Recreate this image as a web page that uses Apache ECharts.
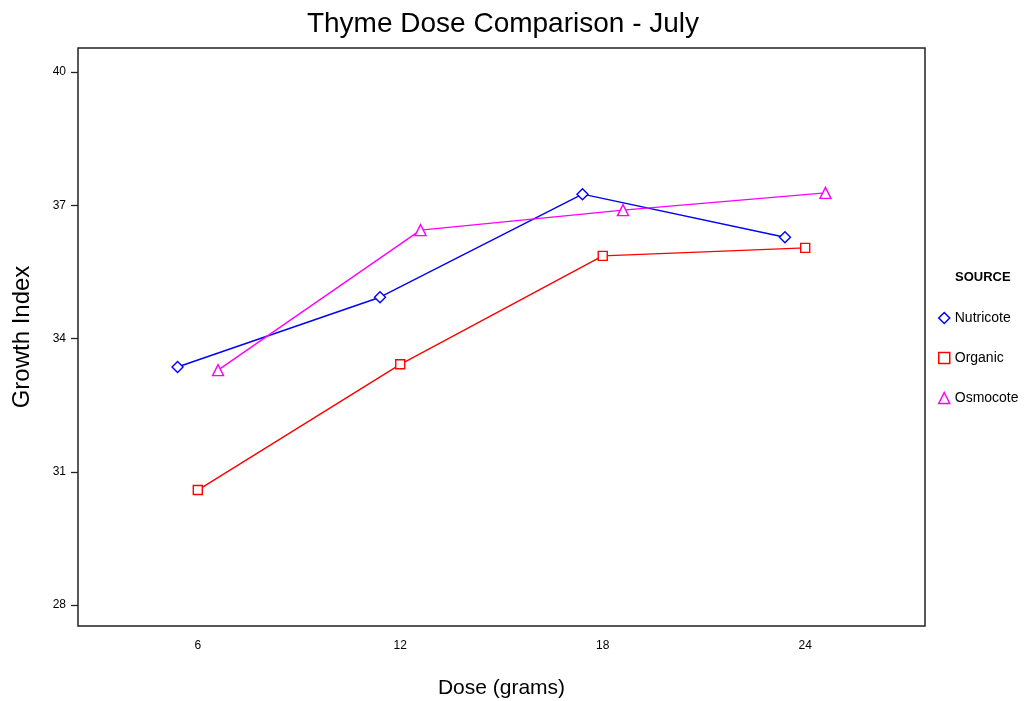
<!DOCTYPE html>
<html>
<head>
<meta charset="utf-8">
<script src="https://cdn.jsdelivr.net/npm/echarts@6/dist/echarts.min.js"></script>
<style>
  html, body { margin: 0; padding: 0; background: #fff; }
  #chart { width: 1029px; height: 701px; }
</style>
</head>
<body>
<div id="chart"></div>
<script>
// ---- data ----
const seriesNames = ['Nutricote', 'Organic', 'Osmocote'];
const nutricoteDose = [5.4, 11.4, 17.4, 23.4];
const nutricoteGrowth = [33.36, 34.93, 37.25, 36.28];
const organicDose = [6, 12, 18, 24];
const organicGrowth = [30.59, 33.42, 35.86, 36.04];
const osmocoteDose = [6.6, 12.6, 18.6, 24.6];
const osmocoteGrowth = [33.29, 36.44, 36.89, 37.28];
const xTicks = [6, 12, 18, 24];
const yTicks = [28, 31, 34, 37, 40];

const C = {
  nutricote: '#0000ff',
  organic: '#ff0000',
  osmocote: '#ff00ff',
  ink: '#000',
  frame: '#222',
};
const FONT = 'Liberation Sans, Arial, sans-serif';

const pairs = (xs, ys) => xs.map((x, i) => [x, ys[i]]);

function lineSeries(name, data, color, symbol) {
  return {
    name, type: 'line', data,
    symbol, symbolSize: symbol === 'rect' ? 9 : 11,
    showAllSymbol: true,
    lineStyle: { color, width: 1.4 },
    itemStyle: { color: '#fff', borderColor: color, borderWidth: 1.4 },
    emphasis: { disabled: true },
    z: 3,
  };
}

const chart = echarts.init(document.getElementById('chart'), null, { renderer: 'canvas' });
chart.setOption({
  backgroundColor: '#fff',
  animation: false,
  title: {
    text: 'Thyme Dose Comparison - July',
    left: 498, top: 5, textAlign: 'center',
    textStyle: { fontFamily: FONT, fontSize: 28, fontWeight: 'normal', color: C.ink },
  },
  grid: {
    left: 78, right: 104, top: 48, bottom: 75,
    outerBoundsMode: 'none', containLabel: false,
    show: true, borderColor: C.frame, borderWidth: 1.5, backgroundColor: 'transparent',
  },
  xAxis: {
    type: 'value', min: 2.45, max: 27.55,
    name: 'Dose (grams)', nameLocation: 'middle', nameGap: 52,
    nameTextStyle: { fontFamily: FONT, fontSize: 21, color: C.ink },
    axisLine: { show: false },
    axisTick: { show: false },
    splitLine: { show: false },
    axisLabel: { customValues: xTicks, margin: 14, fontFamily: FONT, fontSize: 12, color: C.ink },
  },
  yAxis: {
    type: 'value', min: 27.53, max: 40.54,
    name: 'Growth Index', nameLocation: 'middle', nameGap: 44,
    nameTextStyle: { fontFamily: FONT, fontSize: 24, color: C.ink },
    axisLine: { show: false },
    axisTick: { show: true, customValues: yTicks, length: 7, lineStyle: { color: C.frame, width: 1.3 } },
    splitLine: { show: false },
    axisLabel: { customValues: yTicks, margin: 12, fontFamily: FONT, fontSize: 12, color: C.ink },
  },
  legend: {
    orient: 'vertical', left: 933, top: 306, itemGap: 26,
    itemWidth: 11, itemHeight: 11,
    textStyle: { fontFamily: FONT, fontSize: 14, color: C.ink },
    data: [
      { name: seriesNames[0], icon: 'diamond', itemStyle: { color: '#fff', borderColor: C.nutricote, borderWidth: 1.5 } },
      { name: seriesNames[1], icon: 'rect', itemStyle: { color: '#fff', borderColor: C.organic, borderWidth: 1.5 } },
      { name: seriesNames[2], icon: 'triangle', itemStyle: { color: '#fff', borderColor: C.osmocote, borderWidth: 1.5 } },
    ],
  },
  graphic: [{
    type: 'text', left: 955, top: 271,
    style: { text: 'SOURCE', font: 'bold 13px ' + FONT, fill: C.ink },
  }],
  series: [
    lineSeries(seriesNames[0], pairs(nutricoteDose, nutricoteGrowth), C.nutricote, 'diamond'),
    lineSeries(seriesNames[1], pairs(organicDose, organicGrowth), C.organic, 'rect'),
    lineSeries(seriesNames[2], pairs(osmocoteDose, osmocoteGrowth), C.osmocote, 'triangle'),
  ],
});
</script>
</body>
</html>
